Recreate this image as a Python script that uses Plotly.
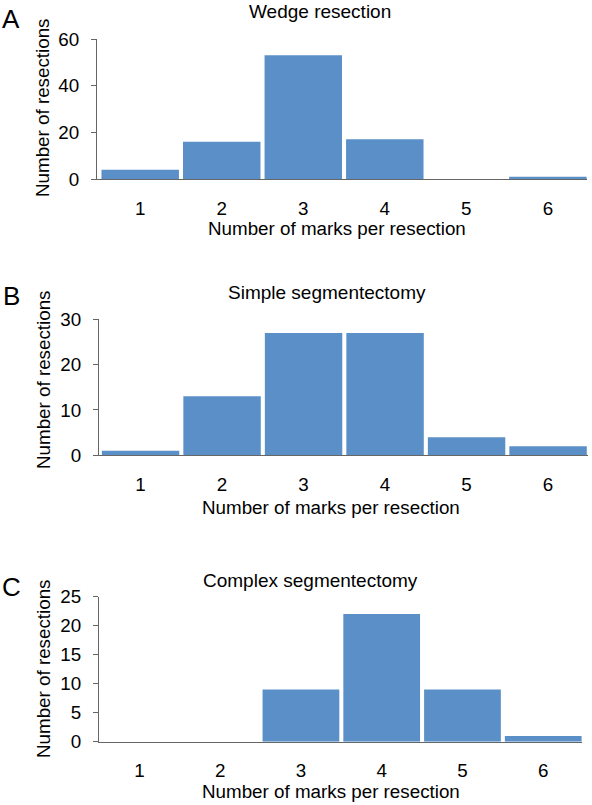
import plotly.graph_objects as go

marks = [1, 2, 3, 4, 5, 6]
tick_labels = ["1", "2", "3", "4", "5", "6"]
wedge = [4, 16, 53, 17, 0, 1]
simple_seg = [1, 13, 27, 27, 4, 2]
complex_seg = [0, 0, 9, 22, 9, 1]

panel_titles = ["Wedge resection", "Simple segmentectomy", "Complex segmentectomy"]
panel_letters = ["A", "B", "C"]
x_title = "Number of marks per resection"
y_title = "Number of resections"

W, H = 592, 805
BAR = "#5a8fc8"
AX = "#666666"
FONT = "Liberation Sans, Arial, Helvetica, sans-serif"
FS = 18.8
FT = 19

def px(x):
    return x / W

def py(y):
    return 1 - y / H

fig = go.Figure()
series = [wedge, simple_seg, complex_seg]
# pixel geometry: (x0, x1, ytop, ybottom), xrange, yrange, yticks
geo = [
    ((97, 587, 39, 179), [0.47, 6.48], [0, 60], [0, 20, 40, 60]),
    ((99, 588, 319.3, 455.3), [0.49, 6.49], [0, 30], [0, 10, 20, 30]),
    ((99, 582, 596.7, 741.7), [0.5, 6.48], [0, 25], [0, 5, 10, 15, 20, 25]),
]
title_pos = [(320, 12), (327, 292), (310, 580)]
xtitle_pos = [(337, 228), (331, 507), (331, 791)]
ytitle_pos = [(43, 107), (43, 379), (43, 668)]
letter_pos = [(11, 19), (11, 296), (11, 587)]

layout = dict(
    width=W, height=H, autosize=False,
    margin=dict(l=0, r=0, t=0, b=0, pad=0),
    paper_bgcolor="white", plot_bgcolor="white",
    showlegend=False, bargap=0.05, hovermode=False,
    font=dict(family=FONT, size=FS, color="black"),
)
annotations = []
for i, (vals, (g, xr, yr, yt)) in enumerate(zip(series, geo)):
    n = "" if i == 0 else str(i + 1)
    fig.add_trace(go.Bar(x=marks, y=vals, marker=dict(color=BAR, line=dict(width=0)),
                         xaxis="x" + n, yaxis="y" + n))
    x0, x1, yt0, yb0 = g
    layout["xaxis" + n] = dict(
        domain=[px(x0), px(x1)], range=xr, anchor="y" + n, automargin=False,
        tickvals=marks, ticktext=tick_labels, ticks="",
        showline=True, linecolor=AX, linewidth=1, showgrid=False, zeroline=False,
        ticklabelstandoff=12, tickfont=dict(size=FS),
    )
    layout["yaxis" + n] = dict(
        domain=[py(yb0), py(yt0)], range=yr, anchor="x" + n, automargin=False,
        tickvals=yt, ticks="outside", ticklen=5, tickcolor=AX, tickwidth=1,
        showline=True, linecolor=AX, linewidth=1, showgrid=False, zeroline=False,
        ticklabelstandoff=8, tickfont=dict(size=FS),
    )
    tx, ty = title_pos[i]
    annotations.append(dict(text=panel_titles[i], x=px(tx), y=py(ty), xref="paper", yref="paper",
                            showarrow=False, xanchor="center", yanchor="middle", font=dict(size=FT)))
    tx, ty = xtitle_pos[i]
    annotations.append(dict(text=x_title, x=px(tx), y=py(ty), xref="paper", yref="paper",
                            showarrow=False, xanchor="center", yanchor="middle", font=dict(size=FS)))
    tx, ty = ytitle_pos[i]
    annotations.append(dict(text=y_title, x=px(tx), y=py(ty), xref="paper", yref="paper",
                            showarrow=False, xanchor="center", yanchor="middle", textangle=-90,
                            font=dict(size=FS)))
    tx, ty = letter_pos[i]
    annotations.append(dict(text=panel_letters[i], x=px(tx), y=py(ty), xref="paper", yref="paper",
                            showarrow=False, xanchor="center", yanchor="middle", font=dict(size=26)))

layout["annotations"] = annotations
fig.update_layout(**layout)
fig.write_html(
    "out.html",
    config={"displayModeBar": False, "staticPlot": True},
    post_script="document.body.style.margin='0';document.body.style.overflow='hidden';",
)
